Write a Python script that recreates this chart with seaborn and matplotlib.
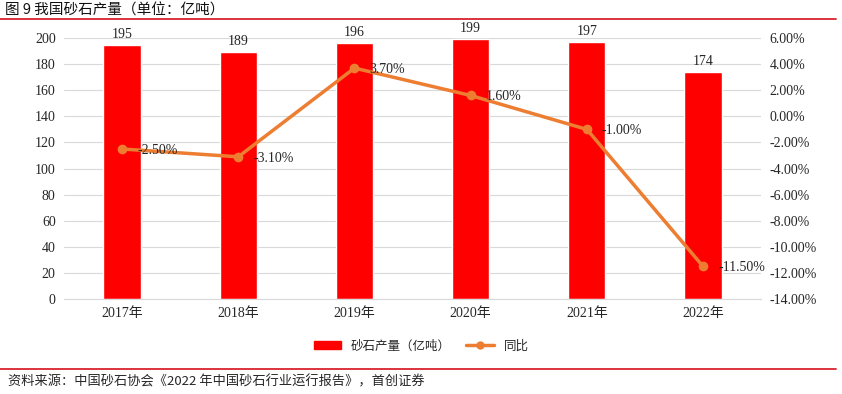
import numpy as np
import pandas as pd
import seaborn as sns
import matplotlib.pyplot as plt
import matplotlib.ticker as mticker
from matplotlib.lines import Line2D
from matplotlib.patches import Patch

years = ["2017年", "2018年", "2019年", "2020年", "2021年", "2022年"]
output = [195, 189, 196, 199, 197, 174]
yoy = [-2.50, -3.10, 3.70, 1.60, -1.00, -11.50]

sns.set_style("white")
plt.rcParams['font.family'] = ['Liberation Serif', 'Noto Sans CJK SC']

df = pd.DataFrame({"year": years, "output": output, "yoy": yoy})

fig = plt.figure(figsize=(8.42, 3.94), dpi=100)
ax1 = fig.add_axes([0.076, 0.241, 0.828, 0.6624])

# barras: producao
sns.barplot(data=df, x="year", y="output", color="#FF0000", width=0.32,
            saturation=1, ax=ax1, zorder=2)
ax1.set_ylim(0, 200)
ax1.set_yticks(range(0, 201, 20))
ax1.yaxis.grid(True, color="#D9D9D9", linewidth=0.8, zorder=0)
ax1.set_axisbelow(True)
ax1.set_xlabel("")
ax1.set_ylabel("")
ax1.tick_params(axis="both", length=0, labelsize=10, pad=6)
for s in ax1.spines.values():
    s.set_visible(False)
ax1.spines["bottom"].set_visible(True)
ax1.spines["bottom"].set_color("#D9D9D9")
for i, v in enumerate(output):
    ax1.text(i, v + 3, str(v), ha="center", va="bottom", fontsize=10)

# linha: variacao anual
ax2 = ax1.twinx()
sns.lineplot(x=np.arange(len(yoy)), y=yoy, ax=ax2, color="#ED7D31",
             linewidth=2.5, marker="o", markersize=7, markeredgewidth=0)
ax2.set_ylim(-14, 6)
ax2.set_yticks(range(-14, 7, 2))
ax2.yaxis.set_major_formatter(mticker.FuncFormatter(lambda v, _: f"{v:.2f}%"))
ax2.tick_params(axis="y", length=0, labelsize=10, pad=6)
for s in ax2.spines.values():
    s.set_visible(False)
ax2.set_xlim(-0.5, 5.5)
for i, v in enumerate(yoy):
    ax2.text(i + 0.13, v - 0.1, f"{v:.2f}%", ha="left", va="center", fontsize=10)

handles = [Patch(color="#FF0000"),
           Line2D([0], [0], color="#ED7D31", linewidth=2.5, marker="o", markersize=5)]
fig.legend(handles, ["砂石产量（亿吨）", "同比"], loc="center", bbox_to_anchor=(0.5, 0.122),
           ncol=2, frameon=False, handlelength=2.2, columnspacing=1.2,
           prop={"family": ["Noto Sans CJK SC"], "size": 9})

fig.text(0.006, 0.974, "图 9 我国砂石产量（单位：亿吨）", fontsize=10.5,
         va="center", family=["Noto Sans CJK SC"], color="#111111")
fig.add_artist(Line2D([0, 0.993], [0.953, 0.953], color="#D9232E", linewidth=1.3))
fig.add_artist(Line2D([0, 0.993], [0.063, 0.063], color="#D9232E", linewidth=1.3))
fig.text(0.01, 0.03, "资料来源：中国砂石协会《2022 年中国砂石行业运行报告》，首创证券", fontsize=9.5,
         style="italic", va="center", family=["Noto Sans CJK SC"])

fig.savefig("out.png", dpi=100)
